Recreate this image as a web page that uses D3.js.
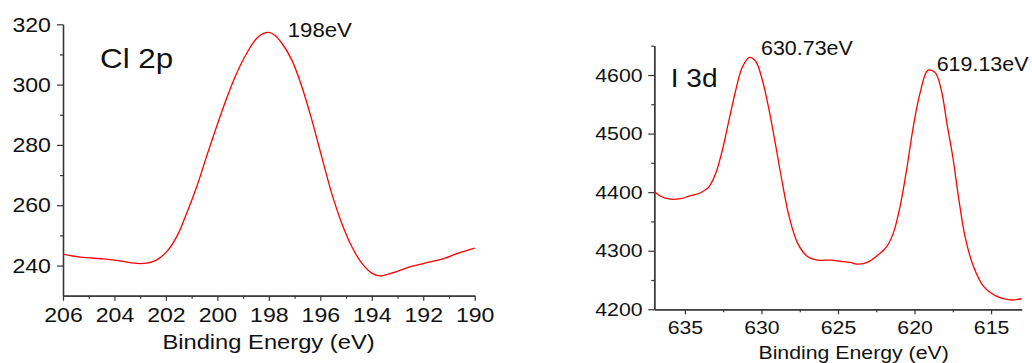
<!DOCTYPE html>
<html>
<head>
<meta charset="utf-8">
<script src="https://cdn.jsdelivr.net/npm/d3@7"></script>
<style>
  html, body { margin: 0; padding: 0; background: #fff; }
  svg { display: block; }
  text { font-family: "Liberation Sans", Arial, sans-serif; fill: #111; }
</style>
</head>
<body>
<svg id="chart" width="1032" height="363"></svg>
<script>
// ---------- Cl 2p data ----------
const clEnergy = [206.0, 205.34, 204.43, 203.91, 203.14, 202.75, 202.36, 201.97, 201.58, 201.19,
  200.80, 200.42, 200.03, 199.64, 199.25, 198.86, 198.47, 198.22, 198.0, 197.76, 197.50, 197.11,
  196.72, 196.33, 195.95, 195.56, 195.17, 194.78, 194.39, 194.0, 193.68, 193.23, 192.58, 191.93,
  191.28, 190.64, 190.0];
const clCounts = [243.8, 242.8, 242.2, 241.7, 240.7, 240.8, 241.9, 244.6, 249.6, 257.4,
  266.2, 276.2, 286.1, 295.5, 303.8, 310.4, 315.4, 316.9, 317.3, 316.3, 313.8, 308.2,
  299.4, 288.3, 276.2, 264.0, 254.1, 246.3, 240.8, 237.5, 236.6, 237.5, 239.4, 240.8,
  242.1, 244.1, 245.8];
const clXMajor = [206, 204, 202, 200, 198, 196, 194, 192, 190];
const clXMinor = [205, 203, 201, 199, 197, 195, 193, 191];
const clYMajor = [240, 260, 280, 300, 320];
const clYMinor = [250, 270, 290, 310];

// ---------- I 3d data ----------
const iEnergy = [637.0, 636.59, 635.94, 635.28, 634.63, 633.97, 633.43, 632.99, 632.55, 632.12,
  631.68, 631.24, 630.78, 630.37, 629.94, 629.50, 629.06, 628.63, 628.19, 627.64, 626.99, 626.33,
  625.46, 624.86, 624.21, 623.67, 623.01, 622.37, 621.82, 621.39, 620.95, 620.52, 620.08, 619.64,
  619.13, 618.65, 618.25, 617.87, 617.50, 617.13, 616.70, 616.15, 615.49, 614.63, 613.76, 613.0];
const iCounts = [4401, 4393, 4388, 4389, 4394, 4399, 4409, 4432, 4472, 4523,
  4574, 4614, 4630, 4623, 4591, 4540, 4478, 4415, 4358, 4313, 4290, 4284,
  4284, 4282, 4280, 4277, 4281, 4293, 4307, 4330, 4375, 4438, 4512, 4569,
  4608, 4604, 4574, 4515, 4460, 4392, 4324, 4273, 4239, 4222, 4216, 4218];
const iXMajor = [635, 630, 625, 620, 615];
const iXMinor = [632.5, 627.5, 622.5, 617.5];
const iYMajor = [4200, 4300, 4400, 4500, 4600];
const iYMinor = [4250, 4350, 4450, 4550, 4650];

const svg = d3.select("#chart");
const AX = "#333";

function stretchText(g, x, y, str, size, anchor, sx) {
  return g.append("text")
    .attr("transform", `translate(${x},${y}) scale(${sx},1)`)
    .attr("text-anchor", anchor)
    .style("font-size", size + "px")
    .text(str);
}

function panel(opt) {
  const g = svg.append("g");
  const x = d3.scaleLinear().domain(opt.xDomain).range([opt.left, opt.right]);
  const y = d3.scaleLinear().domain(opt.yDomain).range([opt.bottom, opt.top]);

  // minor ticks
  g.append("g").attr("transform", `translate(0,${opt.bottom})`)
    .call(d3.axisBottom(x).tickValues(opt.xMinor).tickSize(3).tickSizeOuter(0).tickFormat(""));
  g.append("g").attr("transform", `translate(${opt.left},0)`)
    .call(d3.axisLeft(y).tickValues(opt.yMinor).tickSize(3).tickSizeOuter(0).tickFormat(""));

  // major ticks
  g.append("g").attr("transform", `translate(0,${opt.bottom})`)
    .call(d3.axisBottom(x).tickValues(opt.xMajor).tickSize(5).tickPadding(opt.xPad).tickSizeOuter(0).tickFormat(d3.format("d")));
  g.append("g").attr("transform", `translate(${opt.left},0)`)
    .call(d3.axisLeft(y).tickValues(opt.yMajor).tickSize(6).tickPadding(opt.yPad).tickSizeOuter(0).tickFormat(d3.format("d")));

  g.selectAll(".domain").attr("stroke", AX).attr("stroke-width", 1.3);
  g.selectAll(".tick line").attr("stroke", AX).attr("stroke-width", 1.2);
  g.selectAll(".tick text")
    .style("font-family", '"Liberation Sans", Arial, sans-serif')
    .style("font-size", opt.tickFont + "px")
    .attr("fill", "#111")
    .attr("transform", `scale(${opt.sx},1)`);

  const line = d3.line()
    .x(d => x(d[0])).y(d => y(d[1]))
    .curve(d3.curveCatmullRom.alpha(0.5));
  g.append("path")
    .datum(d3.zip(opt.xs, opt.ys))
    .attr("fill", "none")
    .attr("stroke", "#ff0000")
    .attr("stroke-width", 1.3)
    .attr("d", line);

  return { g, x, y };
}

const cl = panel({
  xDomain: [206, 190], yDomain: [230, 320],
  left: 63, right: 474.7, top: 24.3, bottom: 295.7,
  xMajor: clXMajor, xMinor: clXMinor, yMajor: clYMajor, yMinor: clYMinor,
  xPad: 6, yPad: 5, tickFont: 21, sx: 1.1,
  xs: clEnergy, ys: clCounts
});
stretchText(cl.g, 100, 68.3, "Cl 2p", 28, "start", 1.12);
stretchText(cl.g, 287.7, 37.3, "198eV", 19.5, "start", 1.14);
stretchText(cl.g, 268.5, 348.5, "Binding Energy (eV)", 21, "middle", 1.13);

const io = panel({
  xDomain: [637, 613], yDomain: [4200, 4650],
  left: 654.3, right: 1021.7, top: 45.7, bottom: 309.3,
  xMajor: iXMajor, xMinor: iXMinor, yMajor: iYMajor, yMinor: iYMinor,
  xPad: 6, yPad: 4.5, tickFont: 19, sx: 1.12,
  xs: iEnergy, ys: iCounts
});
stretchText(io.g, 670.7, 86.7, "I 3d", 26, "start", 1.08);
stretchText(io.g, 761, 54.5, "630.73eV", 19.5, "start", 1.1);
stretchText(io.g, 936.7, 70.5, "619.13eV", 19.5, "start", 1.1);
stretchText(io.g, 853.6, 358.5, "Binding Energy (eV)", 19, "middle", 1.12);
</script>
</body>
</html>
